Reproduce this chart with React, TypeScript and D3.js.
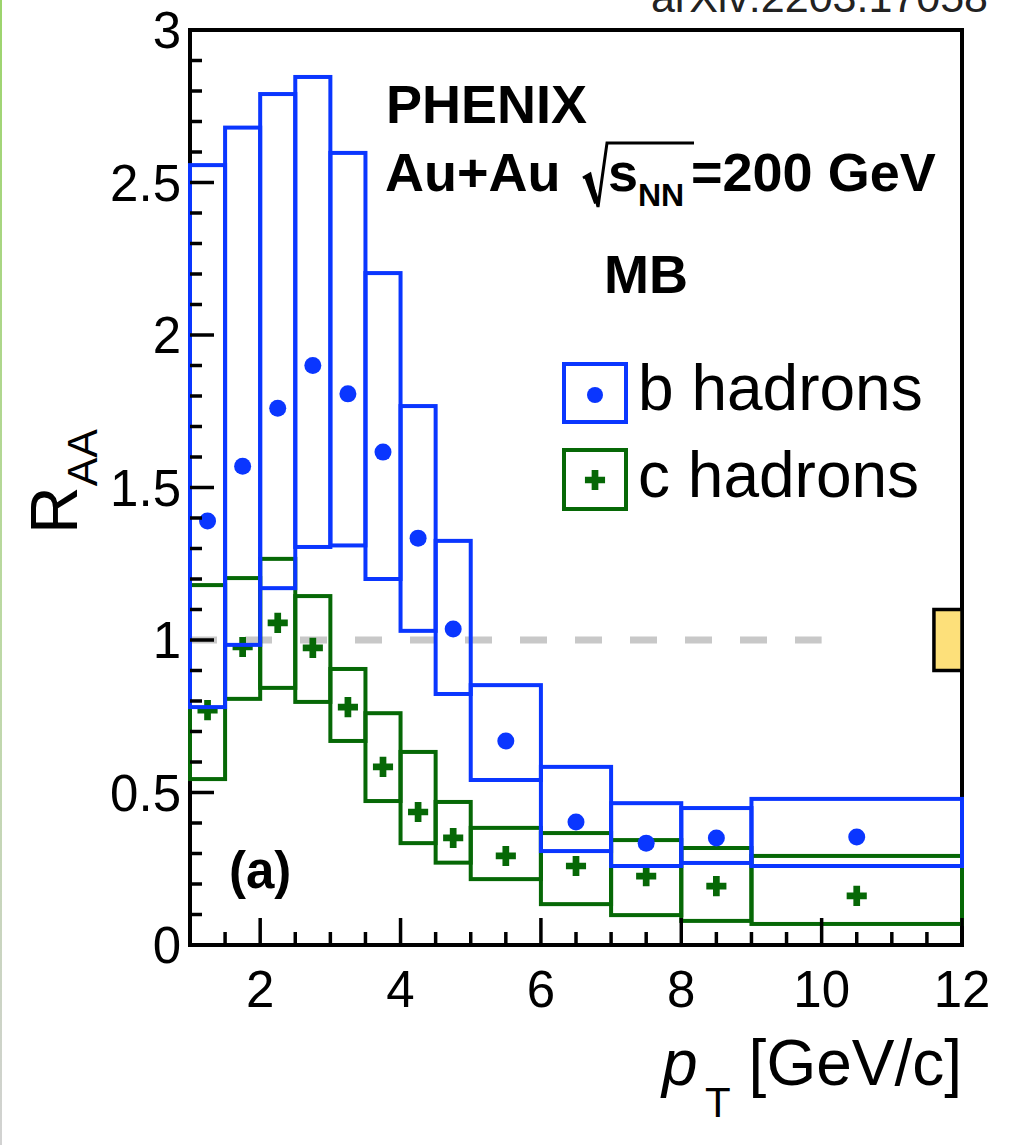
import React from "react";
import * as d3 from "d3";

// pT bins (GeV/c)
const binLo = [1, 1.5, 2, 2.5, 3, 3.5, 4, 4.5, 5, 6, 7, 8, 9];
const binHi = [1.5, 2, 2.5, 3, 3.5, 4, 4.5, 5, 6, 7, 8, 9, 12];
const ptCenter = [1.25, 1.75, 2.25, 2.75, 3.25, 3.75, 4.25, 4.75, 5.5, 6.5, 7.5, 8.5, 10.5];

// b-hadron R_AA with systematic band
const bRaa = [1.39, 1.57, 1.76, 1.9, 1.807, 1.616, 1.334, 1.036, 0.669, 0.403, 0.334, 0.351, 0.354];
const bUpper = [2.557, 2.68, 2.79, 2.846, 2.597, 2.203, 1.767, 1.325, 0.852, 0.584, 0.465, 0.449, 0.479];
const bLower = [0.78, 0.984, 1.17, 1.305, 1.31, 1.2, 1.03, 0.823, 0.541, 0.308, 0.259, 0.269, 0.259];

// c-hadron R_AA with systematic band
const cRaa = [0.77, 0.977, 1.056, 0.974, 0.78, 0.584, 0.436, 0.351, 0.292, 0.259, 0.226, 0.193, 0.161];
const cUpper = [1.18, 1.203, 1.266, 1.144, 0.905, 0.76, 0.633, 0.469, 0.384, 0.367, 0.344, 0.318, 0.292];
const cLower = [0.544, 0.807, 0.843, 0.797, 0.669, 0.472, 0.334, 0.27, 0.216, 0.134, 0.098, 0.079, 0.069];

// global normalisation uncertainty around unity
const globalUnc = 0.1;
const globalBoxPt = [11.6, 12];

const xMajorTicks = [2, 4, 6, 8, 10, 12];
const yMajorTicks = [0, 0.5, 1, 1.5, 2, 2.5, 3];

const FONT = "'Liberation Sans', Arial, Helvetica, sans-serif";
const BLUE = "#0a36ff";
const GREEN = "#066806";

const W = 1013;
const H = 1145;
const plot = { left: 190, right: 962, top: 30, bottom: 945 };

export default function App() {
  const x = d3.scaleLinear().domain([1, 12]).range([plot.left, plot.right]);
  const y = d3.scaleLinear().domain([0, 3]).range([plot.bottom, plot.top]);

  const xMinor = d3.range(1.5, 12, 0.5).filter((v) => !xMajorTicks.includes(v));
  const yMinor = d3.range(0.1, 3, 0.1).filter((v) => Math.abs(v * 2 - Math.round(v * 2)) > 1e-6);

  const crossPath = d3.symbol().type(d3.symbolCross).size(225)() as string;

  const boxes = (lo: number[], hi: number[], color: string, key: string) =>
    binLo.map((l, i) => (
      <rect
        key={key + i}
        x={x(l)}
        y={y(hi[i])}
        width={x(binHi[i]) - x(l)}
        height={y(lo[i]) - y(hi[i])}
        fill="none"
        stroke={color}
        strokeWidth={4}
      />
    ));

  return (
    <svg
      width={W}
      height={H}
      style={{ position: "absolute", left: 0, top: 0, background: "#fff" }}
      fontFamily={FONT}
    >
      <defs>
        <linearGradient id="edge" x1="0" y1="0" x2="0" y2="1">
          <stop offset="0" stopColor="#9cd46c" />
          <stop offset="0.55" stopColor="#bcd9a4" />
          <stop offset="1" stopColor="#d2d2d2" />
        </linearGradient>
      </defs>
      <rect x={0} y={0} width={W} height={H} fill="#fff" />
      <rect x={0} y={0} width={2} height={H} fill="url(#edge)" />

      <text x={988} y={12} fontSize={43} textAnchor="end" fill="#222">
        arXiv:2203.17058
      </text>

      {/* frame */}
      <rect
        x={plot.left}
        y={plot.top}
        width={plot.right - plot.left}
        height={plot.bottom - plot.top}
        fill="none"
        stroke="#000"
        strokeWidth={4}
      />

      {/* unity reference */}
      <line
        x1={x(1)}
        x2={x(10)}
        y1={y(1)}
        y2={y(1)}
        stroke="#c8c8c8"
        strokeWidth={7}
        strokeDasharray="27 28"
      />

      {boxes(cLower, cUpper, GREEN, "cb")}
      {ptCenter.map((p, i) => (
        <path key={"cp" + i} d={crossPath} transform={`translate(${x(p)},${y(cRaa[i])})`} fill={GREEN} />
      ))}
      {boxes(bLower, bUpper, BLUE, "bb")}
      {ptCenter.map((p, i) => (
        <circle key={"bp" + i} cx={x(p)} cy={y(bRaa[i])} r={8.5} fill={BLUE} />
      ))}

      {/* global uncertainty */}
      <rect
        x={x(globalBoxPt[0])}
        y={y(1 + globalUnc)}
        width={x(globalBoxPt[1]) - x(globalBoxPt[0])}
        height={y(1 - globalUnc) - y(1 + globalUnc)}
        fill="#fde07a"
        stroke="#000"
        strokeWidth={3.5}
      />

      {/* ticks */}
      {xMajorTicks.map((t) => (
        <line key={"xM" + t} x1={x(t)} x2={x(t)} y1={plot.bottom} y2={plot.bottom - 27} stroke="#000" strokeWidth={3.5} />
      ))}
      {xMinor.map((t) => (
        <line key={"xm" + t} x1={x(t)} x2={x(t)} y1={plot.bottom} y2={plot.bottom - 13} stroke="#000" strokeWidth={3.5} />
      ))}
      {yMajorTicks.map((t) => (
        <line key={"yM" + t} x1={plot.left} x2={plot.left + 24} y1={y(t)} y2={y(t)} stroke="#000" strokeWidth={3.5} />
      ))}
      {yMinor.map((t) => (
        <line key={"ym" + t} x1={plot.left} x2={plot.left + 12} y1={y(t)} y2={y(t)} stroke="#000" strokeWidth={3.5} />
      ))}
      <line x1={plot.left} x2={plot.right + 2} y1={plot.bottom} y2={plot.bottom} stroke="#000" strokeWidth={4} />

      {/* tick labels */}
      {xMajorTicks.map((t) => (
        <text key={"xl" + t} x={x(t)} y={1007} fontSize={51} textAnchor="middle">
          {t}
        </text>
      ))}
      {yMajorTicks.map((t) => (
        <text key={"yl" + t} x={181} y={y(t) + 18} fontSize={51} textAnchor="end">
          {t}
        </text>
      ))}

      {/* axis titles */}
      <text x={662} y={1085} fontSize={64} fontStyle="italic">
        p
      </text>
      <text x={705} y={1117} fontSize={42}>
        T
      </text>
      <text x={962} y={1085} fontSize={64} textAnchor="end">
        [GeV/c]
      </text>
      <g transform="translate(77,534) rotate(-90)">
        <text x={0} y={0} fontSize={66}>
          R
          <tspan fontSize={43} dy={20}>
            AA
          </tspan>
        </text>
      </g>

      {/* labels */}
      <g fontWeight="bold">
        <text x={386} y={123} fontSize={54}>
          PHENIX
        </text>
        <text x={385} y={191} fontSize={54}>
          Au+Au
        </text>
        <path d="M583,178 L590,174 L598,207 L607,143 L694,143" fill="none" stroke="#000" strokeWidth={3} />
        <path d="M587,176 L597,203" fill="none" stroke="#000" strokeWidth={6} />
        <text x={608} y={191} fontSize={54}>
          s
        </text>
        <text x={638} y={206} fontSize={32}>
          NN
        </text>
        <text x={691} y={191} fontSize={54}>
          =200 GeV
        </text>
        <text x={604} y={293} fontSize={54}>
          MB
        </text>
        <text x={229} y={888} fontSize={51}>
          (a)
        </text>
      </g>

      {/* legend */}
      <rect x={564} y={364} width={62} height={58} fill="none" stroke={BLUE} strokeWidth={4} />
      <circle cx={595} cy={395} r={8} fill={BLUE} />
      <text x={638} y={410} fontSize={64}>
        b hadrons
      </text>
      <rect x={564} y={450} width={62} height={59} fill="none" stroke={GREEN} strokeWidth={4} />
      <path d={crossPath} transform="translate(595,480)" fill={GREEN} />
      <text x={638} y={497} fontSize={64}>
        c hadrons
      </text>
    </svg>
  );
}
